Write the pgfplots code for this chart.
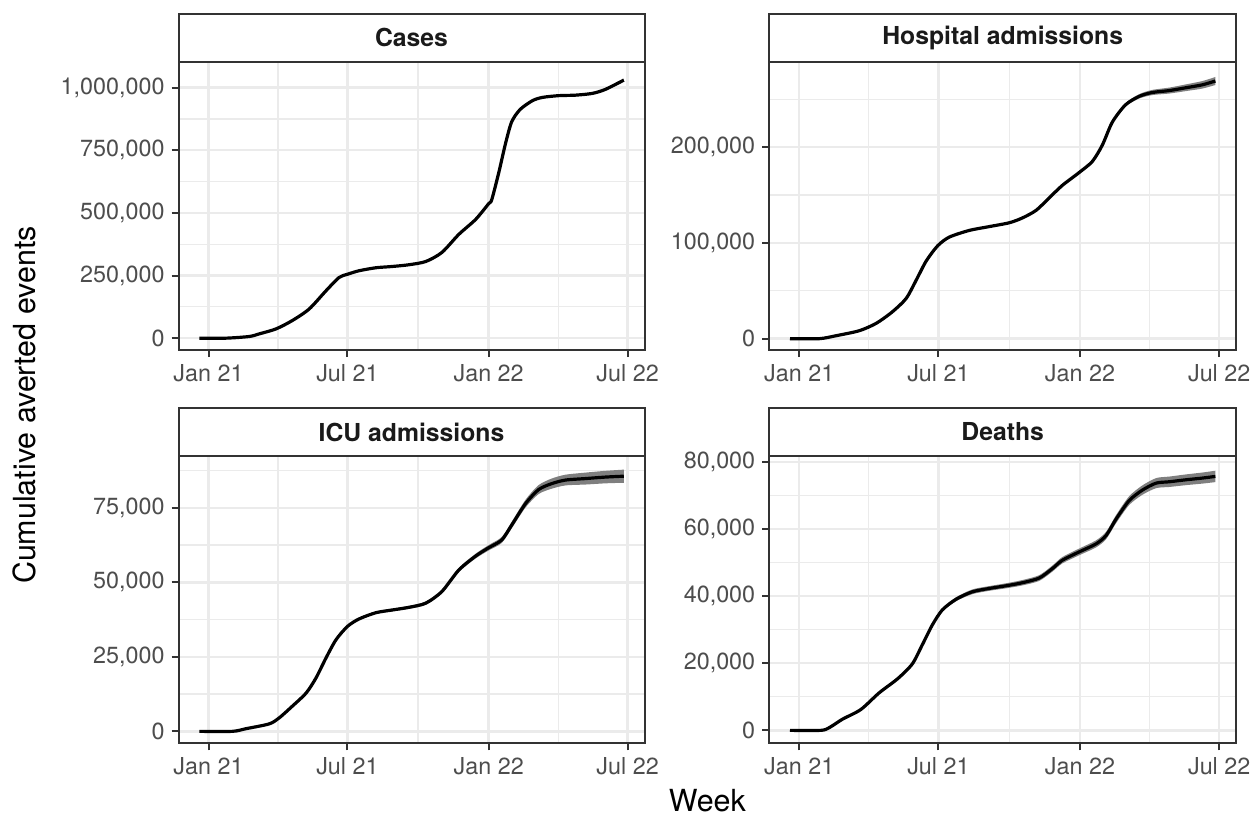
\documentclass[border=0pt]{standalone}
\usepackage{fontspec}
\setmainfont{TeX Gyre Heros}
\usepackage{pgfplots}
\usepackage{pgfplotstable}
\pgfplotsset{compat=1.18}

\definecolor{gridgray}{HTML}{EBEBEB}
\definecolor{framegray}{HTML}{333333}
\definecolor{tickgray}{HTML}{4D4D4D}
\definecolor{stripgray}{HTML}{1A1A1A}
\definecolor{bandgray}{HTML}{7F7F7F}

% d = days since 1 Jan 2021, y = central estimate, lo/hi = interval
\pgfplotstableread{
d y lo hi
-12 0 0 0
23 0 0 0
53 6600 6600 6600
66 17000 17000 17000
88 37000 37000 37000
109 70000 70000 70000
131 116000 116000 116000
153 189000 189000 189000
170 242000 242000 242000
181 255000 255000 255000
196 269000 269000 269000
218 281000 281000 281000
239 286000 286000 286000
261 293000 293000 293000
283 306000 306000 306000
304 342000 342000 342000
326 414000 414000 414000
348 474000 473000 475000
365 537000 536000 538000
369 553000 552000 554000
378 659000 658000 660000
387 778000 776500 779500
395 864000 862000 866000
406 913000 911000 915000
422 948000 945500 950500
435 961000 958000 964000
456 968000 964500 971500
478 970000 966000 974000
500 977000 972500 981500
517 993000 988000 998000
541 1030000 1024000 1036000
}\tcases

\pgfplotstableread{
d y lo hi
-12 0 0 0
26 0 0 0
48 3100 3100 3100
78 8300 8300 8300
100 16000 16000 16000
121 28000 28000 28000
139 42000 42000 42000
152 61000 61000 61000
165 81000 81000 81000
180 97000 97000 97000
195 106000 106000 106000
221 113000 113000 113000
247 117000 117000 117000
273 121000 121000 121000
290 126000 125800 126200
308 134000 133700 134300
325 147000 146600 147400
342 160000 159500 160500
364 173500 173000 174000
381 185000 184400 185600
394 202000 201200 202800
407 226000 224800 227200
424 244000 242200 245800
442 253000 250700 255300
459 257000 254300 259700
481 259000 255900 262100
503 262000 258500 265500
524 265000 261100 268900
541 269000 264800 273200
}\thosp

\pgfplotstableread{
d y lo hi
-12 0 0 0
31 0 0 0
49 900 900 900
79 2500 2500 2500
92 4500 4500 4500
109 8400 8400 8400
127 12800 12800 12800
140 17900 17900 17900
153 24600 24600 24600
166 30700 30500 30900
181 35200 34900 35500
196 37700 37300 38100
218 39800 39400 40200
239 40700 40250 41150
261 41600 41100 42100
283 43000 42450 43550
304 46900 46300 47500
326 54100 53400 54800
348 58800 58000 59600
365 61600 60700 62500
382 64200 63200 65200
395 69200 68100 70300
413 76400 75100 77700
430 81100 79600 82600
447 83100 81400 84800
465 84300 82500 86100
491 84800 82800 86800
517 85300 83200 87400
541 85600 83400 87800
}\ticu

\pgfplotstableread{
d y lo hi
-12 0 0 0
28 0 0 0
39 800 800 800
56 3300 3300 3300
80 6200 6200 6200
104 11200 11200 11200
128 15400 15400 15400
147 19800 19800 19800
160 25500 25500 25500
173 31400 31200 31600
186 35900 35400 36400
204 39100 38500 39700
225 41300 40600 42000
247 42300 41600 43000
269 43100 42350 43850
290 44000 43200 44800
312 45400 44550 46250
329 48200 47300 49100
342 50700 49750 51650
364 53200 52200 54200
386 55600 54550 56650
399 58100 57000 59200
412 63000 61800 64200
429 68500 67200 69800
446 71600 70200 73000
464 73700 72200 75200
481 74100 72550 75650
503 74700 73100 76300
524 75200 73550 76850
541 75700 74000 77400
}\tdeaths

\pgfplotsset{
  facet/.style={
    scale only axis, anchor=south west,
    xmin=-39, xmax=568,
    xtick={0,181,365,546},
    xticklabels={Jan 21,Jul 21,Jan 22,Jul 22},
    minor xtick={90.5,273,455.5},
    grid=both,
    major grid style={line width=1.2pt, color=gridgray},
    minor grid style={line width=0.6pt, color=gridgray},
    tick align=outside, tick pos=left,
    major tick length=3.5pt, minor tick length=0pt,
    major tick style={line width=1pt, color=framegray},
    axis line style={line width=1pt, color=framegray},
    ticklabel style={font=\fontsize{11.7}{14}\selectfont, text=tickgray},
    scaled y ticks=false,
  },
  band/.style={fill=bandgray, draw=none, smooth, tension=0.45},
  est/.style={black, line width=1.6pt, line join=round, smooth, tension=0.45},
}

% band: lower bound stacked with (hi - lo), then the estimate on top
\newcommand{\series}[1]{%
  \addplot[draw=none, smooth, tension=0.45, stack plots=y, forget plot] table[x=d, y=lo] {#1};
  \addplot[band, stack plots=y] table[x=d, y expr=\thisrow{hi}-\thisrow{lo}] {#1} \closedcycle;
  \addplot[est, stack plots=false] table[x=d, y=y] {#1};
}

\newcommand{\strip}[2]{%
  \draw[framegray, line width=1pt, fill=white] (#1.north west) rectangle ([yshift=24pt]#1.north east);
  \node[font=\fontsize{12.4}{15}\selectfont\bfseries, text=stripgray] at ([yshift=12pt]#1.north) {#2};
}

\begin{document}
\begin{tikzpicture}

\begin{axis}[facet, name=p1, at={(89.5pt,233.5pt)}, width=233.5pt, height=144.5pt,
    ymin=-48000, ymax=1103000,
    ytick={0,250000,500000,750000,1000000},
    yticklabels={0,{250,000},{500,000},{750,000},{1,000,000}},
    minor ytick={125000,375000,625000,875000}]
  \series{\tcases}
\end{axis}
\strip{p1}{Cases}

\begin{axis}[facet, name=p2, at={(385.5pt,233.5pt)}, width=234pt, height=144.5pt,
    ymin=-12000, ymax=289000,
    ytick={0,100000,200000},
    yticklabels={0,{100,000},{200,000}},
    minor ytick={50000,150000,250000}]
  \series{\thosp}
\end{axis}
\strip{p2}{Hospital admissions}

\begin{axis}[facet, name=p3, at={(89.5pt,36.5pt)}, width=233.5pt, height=144pt,
    ymin=-4000, ymax=92400,
    ytick={0,25000,50000,75000},
    yticklabels={0,{25,000},{50,000},{75,000}},
    minor ytick={12500,37500,62500,87500}]
  \series{\ticu}
\end{axis}
\strip{p3}{ICU admissions}

\begin{axis}[facet, name=p4, at={(385.5pt,36.5pt)}, width=234pt, height=144pt,
    ymin=-3850, ymax=81800,
    ytick={0,20000,40000,60000,80000},
    yticklabels={0,{20,000},{40,000},{60,000},{80,000}},
    minor ytick={10000,30000,50000,70000}]
  \series{\tdeaths}
\end{axis}
\strip{p4}{Deaths}

\node[rotate=90, font=\fontsize{15.25}{18}\selectfont] at (12pt,206pt) {Cumulative averted events};
\node[font=\fontsize{15.25}{18}\selectfont] at (354.5pt,8pt) {Week};
\path (0,0) rectangle (628.5pt,409pt);
\end{tikzpicture}
\end{document}
